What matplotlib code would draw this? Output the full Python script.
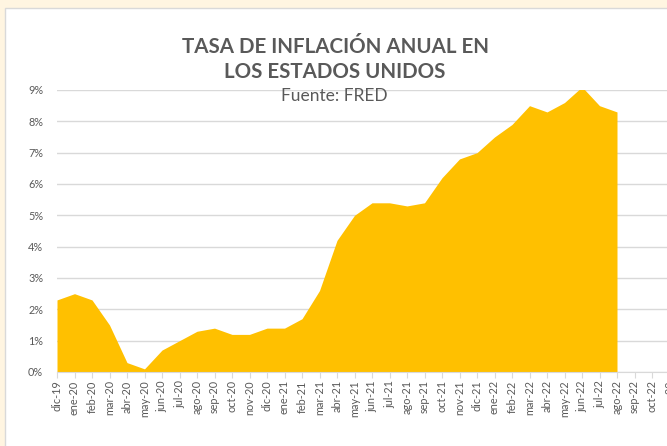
import numpy as np
import matplotlib.pyplot as plt
from matplotlib.patches import Rectangle

# Meses (eje X)
meses = ['dic-19', 'ene-20', 'feb-20', 'mar-20', 'abr-20', 'may-20', 'jun-20', 'jul-20',
         'ago-20', 'sep-20', 'oct-20', 'nov-20', 'dic-20', 'ene-21', 'feb-21', 'mar-21',
         'abr-21', 'may-21', 'jun-21', 'jul-21', 'ago-21', 'sep-21', 'oct-21', 'nov-21',
         'dic-21', 'ene-22', 'feb-22', 'mar-22', 'abr-22', 'may-22', 'jun-22', 'jul-22',
         'ago-22', 'sep-22', 'oct-22', 'nov-22']

# Inflación anual (%), hasta ago-22
inflacion = [2.3, 2.5, 2.3, 1.5, 0.3, 0.1, 0.7, 1.0, 1.3, 1.4, 1.2, 1.2, 1.4, 1.4, 1.7, 2.6,
             4.2, 5.0, 5.4, 5.4, 5.3, 5.4, 6.2, 6.8, 7.0, 7.5, 7.9, 8.5, 8.3, 8.6, 9.1, 8.5,
             8.3]

gris = '#595959'
plt.rcParams['font.family'] = ['Lato', 'DejaVu Sans']

W, H = 667, 446
fig = plt.figure(figsize=(W / 100, H / 100), dpi=100, facecolor='#FFF5E1')

# panel blanco del gráfico
fig.patches.append(Rectangle((5 / W, -0.1), 1.1, 1 - 8 / H + 0.1, transform=fig.transFigure,
                             facecolor='white', edgecolor='#D9D9D9', linewidth=1, zorder=0))

x0, x1 = 57, 57 + 17.5 * 35
ax = fig.add_axes([x0 / W, 74 / H, (x1 - x0) / W, 282 / H])
ax.set_zorder(2)
ax.set_facecolor('none')

x = np.arange(len(inflacion))
ax.fill_between(x, 0, inflacion, color='#FFC000', linewidth=0, zorder=2)

ax.set_xlim(0, len(meses) - 1)
ax.set_ylim(0, 9)
ax.set_xticks(np.arange(len(meses)))
ax.set_xticklabels(meses, rotation=90, fontsize=7.8, color=gris)
ax.set_yticks(range(10))
ax.set_yticklabels([f'{i}%' for i in range(10)], fontsize=7.8, color=gris)
ax.tick_params(axis='x', length=4, color='#D9D9D9', pad=2)
ax.tick_params(axis='y', length=0, pad=10)
ax.grid(axis='y', color='#D9D9D9', linewidth=1, zorder=1)
ax.set_axisbelow(True)
for s in ['top', 'right', 'left']:
    ax.spines[s].set_visible(False)
ax.spines['bottom'].set_color('#D9D9D9')
ax.spines['bottom'].set_zorder(3)
for lbl in ax.get_xticklabels():
    lbl.set_clip_on(False)

fig.text(335 / W, 1 - 47 / H, 'TASA DE INFLACIÓN ANUAL EN', ha='center', va='center',
         fontsize=14.8, fontweight='bold', color=gris, zorder=5)
fig.text(335 / W, 1 - 72 / H, 'LOS ESTADOS UNIDOS', ha='center', va='center',
         fontsize=14.8, fontweight='bold', color=gris, zorder=5)
fig.text(334 / W, 1 - 96 / H, 'Fuente: FRED', ha='center', va='center',
         fontsize=12.5, color=gris, zorder=5)

fig.savefig('out.png', dpi=100, facecolor=fig.get_facecolor())
